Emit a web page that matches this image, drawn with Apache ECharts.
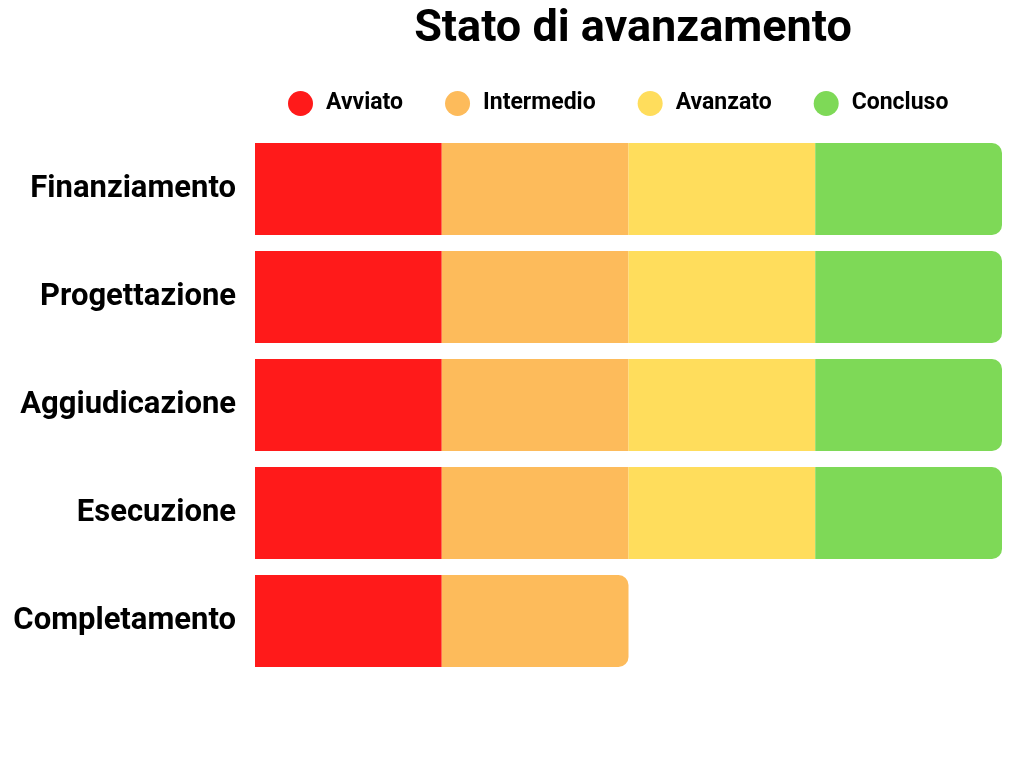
<!DOCTYPE html>
<html><head><meta charset="utf-8">
<script src="https://cdn.jsdelivr.net/npm/echarts@6/dist/echarts.min.js"></script>
<style>html,body{margin:0;background:#fff}#c{width:1024px;height:768px}</style>
</head><body><div id="c"></div>
<script>
const categories = ['Finanziamento','Progettazione','Aggiudicazione','Esecuzione','Completamento'];
const seriesNames = ['Avviato','Intermedio','Avanzato','Concluso'];
const avviato = [1,1,1,1,1];
const intermedio = [1,1,1,1,1];
const avanzato = [1,1,1,1,null];
const concluso = [1,1,1,1,null];
const colors = ['#FF1A1A','#FDBB5B','#FFDD5C','#7ED957'];
const all = [avviato, intermedio, avanzato, concluso];
const series = all.map((vals, si) => ({
  name: seriesNames[si], type: 'bar', stack: 's', barWidth: '85%',
  itemStyle: {color: colors[si]},
  data: vals.map((v, ci) => {
    if (v == null) return '-';
    let last = true;
    for (let k = si + 1; k < all.length; k++) if (all[k][ci] != null) last = false;
    return last ? {value: v, itemStyle: {borderRadius: [0, 10, 10, 0]}} : v;
  })
}));
const chart = echarts.init(document.getElementById('c'));
chart.setOption({
  animation: false,
  title: {text: 'Stato di avanzamento', left: 628, top: 2, textAlign: 'center',
    textStyle: {fontFamily: 'Roboto', fontWeight: 'bold', fontSize: 45, color: '#000'}},
  legend: {left: 283, top: 86, icon: 'circle', itemWidth: 25, itemHeight: 25, itemGap: 42,
    textStyle: {fontFamily: 'Roboto', fontWeight: 'bold', fontSize: 23, color: '#000', padding: [0,0,0,8]}},
  grid: {left: 255, right: 22, top: 135, bottom: 93, containLabel: false},
  xAxis: {type: 'value', min: 0, max: 4, show: false},
  yAxis: {type: 'category', data: categories, inverse: true,
    axisLine: {show: false}, axisTick: {show: false},
    axisLabel: {margin: 19, fontFamily: 'Roboto', fontWeight: 'bold', fontSize: 31, color: '#000'}},
  series: series
});
</script></body></html>
